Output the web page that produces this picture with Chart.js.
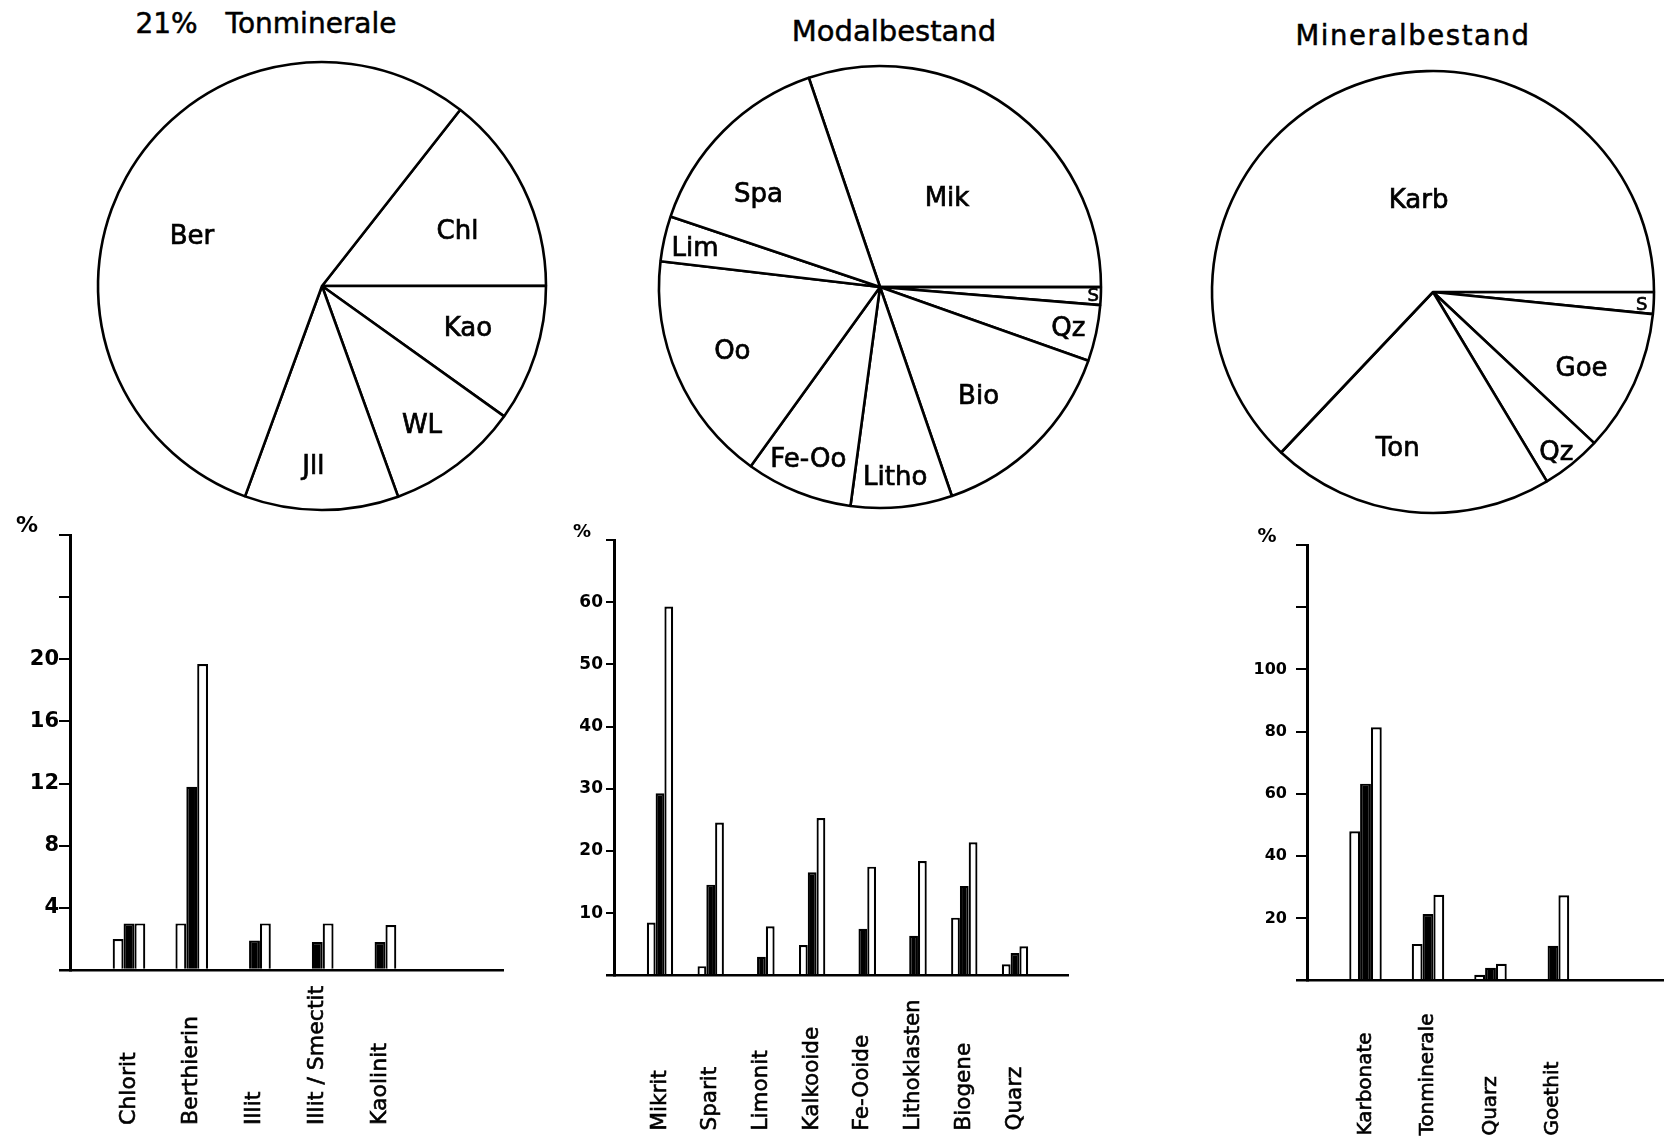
<!DOCTYPE html>
<html>
<head>
<meta charset="utf-8">
<script src="https://cdn.jsdelivr.net/npm/chart.js@4.4.1/dist/chart.umd.min.js"></script>
<style>
  html, body { margin: 0; padding: 0; background: #fff; overflow: hidden; }
  body { width: 1664px; height: 1147px; position: relative; font-family: "DejaVu Sans", sans-serif; }
  canvas { position: absolute; }
  .title { position: absolute; color: #000; white-space: nowrap; transform: translateX(-50%); -webkit-text-stroke: 0.5px #000; }
</style>
</head>
<body>
<div class="title" style="left:266px; top:7px; font-size:28px; word-spacing:19px;">21% Tonminerale</div>
<div class="title" style="left:894px; top:14px; font-size:29px;">Modalbestand</div>
<div class="title" style="left:1413px; top:19px; font-size:27.5px; letter-spacing:1.6px;">Mineralbestand</div>

<canvas id="pieTon" width="460" height="460" style="left:92px; top:56px"></canvas>
<canvas id="pieMod" width="460" height="460" style="left:650px; top:57px"></canvas>
<canvas id="pieMin" width="460" height="460" style="left:1203px; top:62px"></canvas>

<canvas id="barTon" width="540" height="667" style="left:0px; top:480px"></canvas>
<canvas id="barMod" width="540" height="667" style="left:560px; top:480px"></canvas>
<canvas id="barMin" width="434" height="667" style="left:1230px; top:480px"></canvas>

<script>
// --- pie data (percent) ---
const tonPieNames = ['Chl', 'Kao', 'WL', 'Jll', 'Ber'];
const tonPieValues = [14.4, 9.9, 9.6, 11.1, 55.0];

const modPieNames = ['Mik', 'S', 'Qz', 'Bio', 'Litho', 'Fe-Oo', 'Oo', 'Lim', 'Spa'];
const modPieValues = [30.2, 1.3, 4.1, 14.3, 7.4, 7.8, 16.9, 3.3, 14.6];

const minPieNames = ['S', 'Goe', 'Qz', 'Ton', 'Karb'];
const minPieValues = [1.6, 10.4, 4.4, 20.7, 63.0];

// --- bar data (%), white / black / white bars ---
const tonCats = ['Chlorit', 'Berthierin', 'Illit', 'Illit / Smectit', 'Kaolinit'];
const tonMin = [2.0, 3.0, null, null, null];
const tonMean = [3.0, 11.8, 1.9, 1.8, 1.8];
const tonMax = [3.0, 19.7, 3.0, 3.0, 2.9];

const modCats = ['Mikrit', 'Sparit', 'Limonit', 'Kalkooide', 'Fe-Ooide', 'Lithoklasten', 'Biogene', 'Quarz'];
const modMin = [8.5, 1.5, null, 4.9, null, null, 9.3, 1.8];
const modMean = [29.3, 14.6, 3.0, 16.6, 7.5, 6.4, 14.4, 3.6];
const modMax = [59.3, 24.6, 7.9, 25.3, 17.5, 18.4, 21.4, 4.7];

const minCats = ['Karbonate', 'Tonminerale', 'Quarz', 'Goethit'];
const minMin = [48.0, 11.8, 1.9, null];
const minMean = [63.3, 21.4, 4.1, 11.2];
const minMax = [81.4, 27.6, 5.4, 27.4];

// y tick values that carry a number
const tonTickMax = 20, modTickMax = 60, minTickMax = 100;

const INK = '#000';

// slightly heavier text, like the printed original
function inkText(ctx, text, x, y) {
  ctx.fillText(text, x, y);
  ctx.strokeText(text, x, y);
}

// slice names written inside the pie: [angle shift in deg, radius fraction]
const sliceLabels = {
  id: 'sliceLabels',
  afterDatasetsDraw(chart, args, opts) {
    const ctx = chart.ctx;
    const arcs = chart.getDatasetMeta(0).data;
    ctx.save();
    ctx.fillStyle = INK;
    ctx.strokeStyle = INK;
    ctx.lineWidth = 0.7;
    ctx.textAlign = 'center';
    ctx.textBaseline = 'middle';
    arcs.forEach((arc, i) => {
      const p = arc.getProps(['x', 'y', 'startAngle', 'endAngle', 'outerRadius'], true);
      const [shift, frac] = opts.place[i];
      const a = (p.startAngle + p.endAngle) / 2 + shift * Math.PI / 180;
      const r = p.outerRadius * frac;
      const small = p.endAngle - p.startAngle < 0.12;
      ctx.font = (small ? '18px' : '26px') + ' "DejaVu Sans"';
      inkText(ctx, chart.data.labels[i], p.x + Math.cos(a) * r, p.y + Math.sin(a) * r);
    });
    ctx.restore();
  }
};

function pieChart(id, names, values, rotation, radius, place) {
  return new Chart(document.getElementById(id), {
    type: 'pie',
    data: {
      labels: names,
      datasets: [{ data: values, backgroundColor: '#fff', borderColor: INK, borderWidth: 2.6 }]
    },
    options: {
      responsive: false, animation: false, devicePixelRatio: 1,
      rotation: rotation, radius: radius,
      layout: { padding: 0 },
      plugins: { legend: { display: false }, tooltip: { enabled: false }, sliceLabels: { place: place } }
    },
    plugins: [sliceLabels]
  });
}

pieChart('pieTon', tonPieNames, tonPieValues, 38.1, 224,
  [[4.5, 0.65], [-1.1, 0.68], [1.7, 0.77], [2.6, 0.81], [-8.5, 0.62]]);
pieChart('pieMod', modPieNames, modPieValues, -18.8, 221,
  [[1.7, 0.5], [0, 0.966], [0.5, 0.873], [3, 0.67], [1.1, 0.866], [0.7, 0.85], [0, 0.73], [-1.2, 0.854], [-7.7, 0.69]]);
pieChart('pieMin', minPieNames, minPieValues, 90, 221,
  [[0.8, 0.946], [2.9, 0.757], [1.6, 0.92], [6.4, 0.73], [14.2, 0.414]]);

// category names below the axis (reading upward) and the % sign
const axisText = {
  id: 'axisText',
  afterDraw(chart, args, opts) {
    const { ctx, chartArea, scales } = chart;
    ctx.save();
    ctx.fillStyle = INK;
    ctx.strokeStyle = INK;
    ctx.lineWidth = 0.6;
    ctx.font = opts.labelSize + 'px "DejaVu Sans"';
    ctx.textAlign = 'left';
    ctx.textBaseline = 'middle';
    opts.names.forEach((name, i) => {
      ctx.save();
      ctx.translate(scales.x.getPixelForValue(i), chartArea.bottom + opts.gap);
      ctx.rotate(-Math.PI / 2);
      inkText(ctx, name, 0, 0);
      ctx.restore();
    });
    ctx.font = 'bold ' + opts.pctSize + 'px "DejaVu Sans"';
    ctx.textAlign = 'center';
    ctx.fillText('%', chartArea.left + opts.pctDx, chartArea.top + opts.pctDy);
    ctx.restore();
  }
};

function barChart(id, names, lo, mid, hi, cfg) {
  const pts = arr => arr.map((v, i) => ({ x: i, y: v }));
  return new Chart(document.getElementById(id), {
    type: 'bar',
    data: {
      datasets: [
        { label: 'min', data: pts(lo), backgroundColor: '#fff', borderColor: INK, borderWidth: 2.2 },
        { label: 'mittel', data: pts(mid), backgroundColor: INK, borderColor: INK, borderWidth: 2.2 },
        { label: 'max', data: pts(hi), backgroundColor: '#fff', borderColor: INK, borderWidth: 2.2 }
      ]
    },
    options: {
      responsive: false, animation: false, devicePixelRatio: 1,
      layout: { padding: cfg.pad },
      datasets: { bar: { categoryPercentage: 0.52, barPercentage: 1 } },
      plugins: {
        legend: { display: false }, tooltip: { enabled: false },
        axisText: {
          names: names, gap: 155, labelSize: cfg.labelSize,
          pctSize: cfg.pctSize, pctDx: cfg.pctDx, pctDy: cfg.pctDy
        }
      },
      scales: {
        x: {
          type: 'linear', min: cfg.xMin, max: cfg.xMax, offset: false,
          grid: { display: false, offset: false },
          ticks: { display: false, stepSize: 1, includeBounds: false },
          border: { color: INK, width: 2.5, z: 1 },
          afterFit: s => { s.height = 0; }
        },
        y: {
          position: 'left',
          min: 0, max: cfg.yMax,
          // the tick at 0 doubles as the short stub of the x axis left of the y axis
          grid: { drawOnChartArea: false, color: INK, lineWidth: c => (c.tick && c.tick.value === 0 ? 2.5 : 2), tickLength: cfg.tickLen },
          border: { color: INK, width: 3, z: 1 },
          ticks: {
            stepSize: cfg.step, padding: cfg.tickPad, color: INK,
            font: { family: 'DejaVu Sans', size: cfg.fontSize, weight: 'bold' },
            callback: v => (v > 0 && v <= cfg.lastLabel ? v : '')
          },
          afterFit: s => { s.width = cfg.yW; }
        }
      }
    },
    plugins: [axisText]
  });
}

barChart('barTon', tonCats, tonMin, tonMean, tonMax, {
  pad: { left: 10, right: 37, top: 55, bottom: 177 }, yW: 60,
  xMin: -0.94, xMax: 5.96, yMax: 28, step: 4, lastLabel: tonTickMax,
  tickLen: 11, tickPad: 0, fontSize: 21, labelSize: 22,
  pctSize: 22, pctDx: -43, pctDy: -9
});
barChart('barMod', modCats, modMin, modMean, modMax, {
  pad: { left: 4, right: 32, top: 60, bottom: 171.5 }, yW: 50,
  xMin: -0.907, xMax: 8.045, yMax: 70, step: 10, lastLabel: modTickMax,
  tickLen: 8, tickPad: 3, fontSize: 17, labelSize: 21.5,
  pctSize: 18, pctDx: -32, pctDy: -8
});
barChart('barMin', minCats, minMin, minMean, minMax, {
  pad: { left: 7, right: 0, top: 65, bottom: 166.4 }, yW: 70,
  xMin: -0.936, xMax: 4.776, yMax: 140, step: 20, lastLabel: minTickMax,
  tickLen: 11, tickPad: 9, fontSize: 16, labelSize: 20,
  pctSize: 19, pctDx: -40, pctDy: -8
});
</script>
</body>
</html>
